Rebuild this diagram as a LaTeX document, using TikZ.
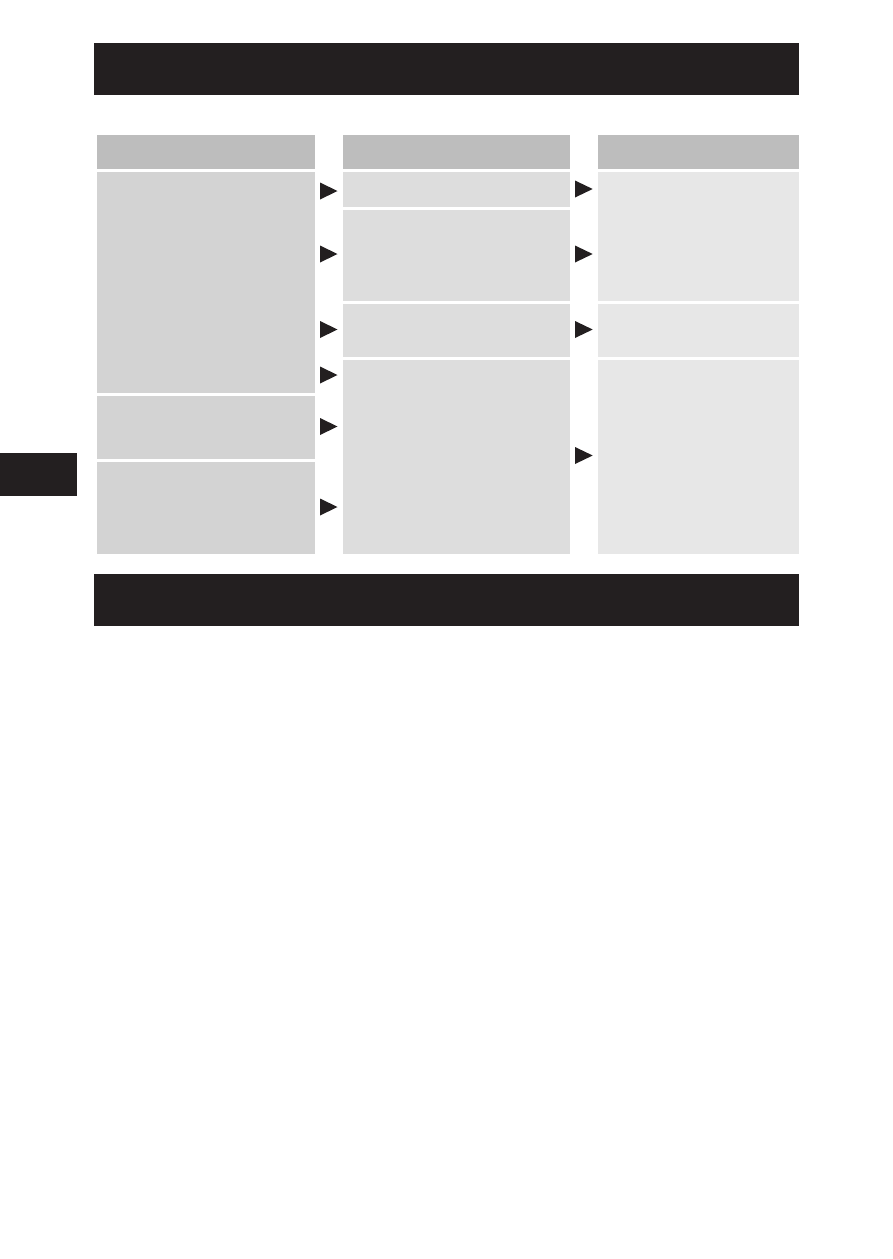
\documentclass[tikz,border=0pt]{standalone}
\usetikzlibrary{fit}
\definecolor{barblack}{HTML}{231F20}
\definecolor{headgray}{HTML}{BDBDBD}
\definecolor{leftgray}{HTML}{D3D3D3}
\definecolor{midgray}{HTML}{DDDDDD}
\definecolor{rightgray}{HTML}{E7E7E7}
\tikzset{
  panel/.style={inner sep=0pt, outer sep=0pt, draw=none},
  bar/.style={panel, fill=barblack},
  head/.style={panel, fill=headgray},
  lbox/.style={panel, fill=leftgray},
  mbox/.style={panel, fill=midgray},
  rbox/.style={panel, fill=rightgray},
  tri/.style={fill=barblack}
}
\begin{document}
\begin{tikzpicture}[x=1pt,y=-1pt]
\useasboundingbox (0,0) rectangle (893,1259);
% bars
\node[bar, fit={(94,43) (799,95)}] (topbar) {};
\node[bar, fit={(94,574) (799,626)}] (bottombar) {};
\node[bar, fit={(0,453) (77,496)}] (tab) {};
% headers
\node[head, fit={(97,135) (315,169)}] (lhead) {};
\node[head, fit={(343,135) (570,169)}] (mhead) {};
\node[head, fit={(598,135) (799,169)}] (rhead) {};
% left column
\node[lbox, fit={(97,172) (315,393)}] (L1) {};
\node[lbox, fit={(97,396) (315,459)}] (L2) {};
\node[lbox, fit={(97,462) (315,554)}] (L3) {};
% middle column
\node[mbox, fit={(343,172) (570,207)}] (M1) {};
\node[mbox, fit={(343,210) (570,301)}] (M2) {};
\node[mbox, fit={(343,304) (570,357)}] (M3) {};
\node[mbox, fit={(343,360) (570,554)}] (M4) {};
% right column
\node[rbox, fit={(598,172) (799,301)}] (R1) {};
\node[rbox, fit={(598,304) (799,357)}] (R2) {};
\node[rbox, fit={(598,360) (799,554)}] (R3) {};
% triangles left -> middle
\foreach \yy in {191,254,329.5,375,426.5,507}
  \fill[tri] (320,\yy-8.5) -- (337.5,\yy) -- (320,\yy+8.5) -- cycle;
% triangles middle -> right
\foreach \yy in {189,254,329.5,455.5}
  \fill[tri] (575,\yy-8.5) -- (592.7,\yy) -- (575,\yy+8.5) -- cycle;
\end{tikzpicture}
\end{document}
